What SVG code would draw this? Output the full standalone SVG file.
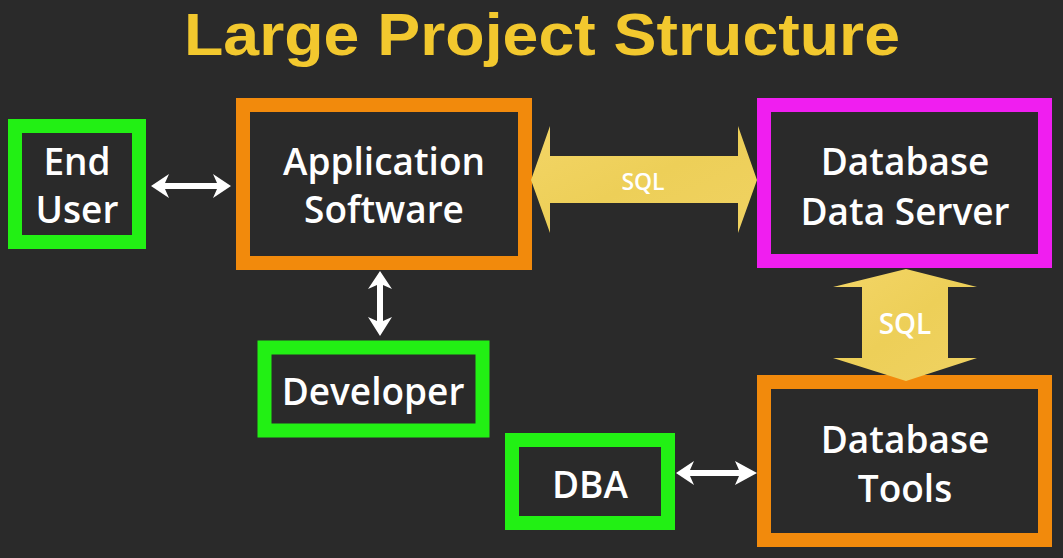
<svg xmlns="http://www.w3.org/2000/svg" width="1063" height="558" viewBox="0 0 1063 558">
<defs>
<linearGradient id="gold" x1="0" y1="0" x2="1" y2="1">
<stop offset="0" stop-color="#F3D566"/>
<stop offset="0.5" stop-color="#EDCF58"/>
<stop offset="1" stop-color="#F0D262"/>
</linearGradient>
</defs>
<style>
.box{fill:#2a2a2a;stroke-width:14}
.green{stroke:#22F014}
.orange{stroke:#F28A0C}
.magenta{stroke:#F01EF0}
.lbl{font-family:"Open Sans","Liberation Sans",sans-serif;font-weight:600;font-size:37px;fill:#FFFFFF;text-anchor:middle}
.sql{font-family:"Open Sans","Liberation Sans",sans-serif;font-weight:600;fill:#FFFFFF;text-anchor:middle}
.big{fill:url(#gold)}
.wa{fill:#FFFFFF}
</style>
<rect width="1063" height="558" fill="#2a2a2a"/>
<text x="542" y="55" font-family="'Liberation Sans',sans-serif" font-weight="bold" font-size="60" fill="#F2C82E" text-anchor="middle" textLength="716" lengthAdjust="spacingAndGlyphs">Large Project Structure</text>

<g id="end-user">
<rect class="box green" x="15" y="126" width="124" height="116"/>
<text class="lbl" x="77" y="175">End</text>
<text class="lbl" x="77" y="223">User</text>
</g>
<g id="application-software">
<rect class="box orange" x="243" y="105" width="282" height="158"/>
<text class="lbl" x="384" y="175">Application</text>
<text class="lbl" x="384" y="223">Software</text>
</g>
<g id="database-data-server">
<rect class="box magenta" x="764" y="105" width="281" height="156"/>
<text class="lbl" x="905" y="175">Database</text>
<text class="lbl" x="905" y="225">Data Server</text>
</g>
<g id="developer">
<rect class="box green" x="264.5" y="347.5" width="218" height="83" stroke-width="13"/>
<text class="lbl" x="373" y="405">Developer</text>
</g>
<g id="dba">
<rect class="box green" x="512" y="440" width="156" height="83"/>
<text class="lbl" x="590" y="498">DBA</text>
</g>
<g id="database-tools">
<rect class="box orange" x="764" y="382" width="281" height="158"/>
<text class="lbl" x="905" y="453">Database</text>
<text class="lbl" x="905" y="502">Tools</text>
</g>

<g id="connectors">
<polygon class="wa" points="151,186 169,174 165,183 217,183 213,174 231,186 213,198 217,189 165,189 169,198"/>
<polygon class="wa" points="380,271 392,289 383,285 383,321 392,317 380,336 368,317 377,321 377,285 368,289"/>
<polygon class="wa" points="676,473 694,461 690,470 739,470 735,461 757,473 735,485 739,476 690,476 694,485"/>
<polygon class="big" points="531,180 550,126 550,156 738,156 738,126 757,180 738,233 738,203 550,203 550,233"/>
<text class="sql" x="643" y="190" font-size="23">SQL</text>
<polygon class="big" points="906,269 977,287 948,287 948,358 977,358 906,381 833,358 862,358 862,287 833,287"/>
<text class="sql" x="905" y="334" font-size="28">SQL</text>
</g>
</svg>
